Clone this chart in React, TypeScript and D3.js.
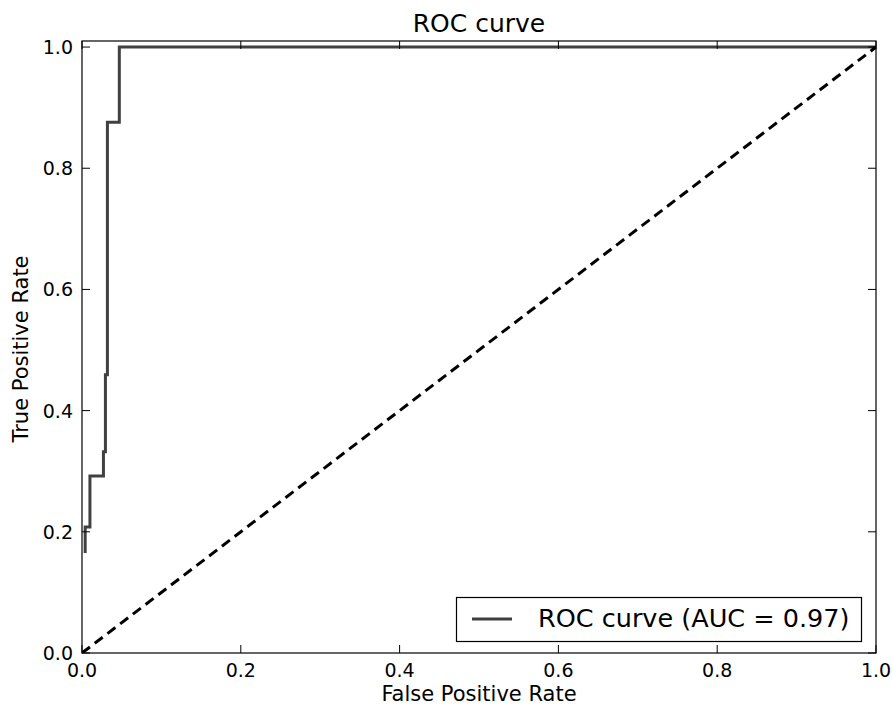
import * as d3 from 'd3';
import React from 'react';

// ROC curve points
const fpr = [0.004, 0.004, 0.010, 0.010, 0.027, 0.027, 0.0295, 0.0295, 0.032, 0.032, 0.047, 0.047, 1.0];
const tpr = [0.165, 0.208, 0.208, 0.292, 0.292, 0.332, 0.332, 0.459, 0.459, 0.876, 0.876, 1.0, 1.0];
const chance = [0, 1];
const xTicks = [0, 0.2, 0.4, 0.6, 0.8, 1.0];
const yTicks = [0, 0.2, 0.4, 0.6, 0.8, 1.0];
const title = 'ROC curve';
const legendLabel = 'ROC curve (AUC = 0.97)';

const W = 892, H = 708;
const left = 82, right = 876, top = 41, bottom = 653;
const font = 'DejaVu Sans, sans-serif';

export default function App() {
  const x = d3.scaleLinear().domain([0, 1]).range([left, right]);
  const y = d3.scaleLinear().domain([0, 1.01]).range([bottom, top]);

  const line = d3.line<number>().x((d, i) => x(fpr[i])).y((d, i) => y(tpr[i]));
  const diag = d3.line<number>().x(d => x(d)).y(d => y(d));

  return (
    <svg width={W} height={H} style={{ position: 'absolute', left: 0, top: 0, background: '#fff' }} fontFamily={font}>
      <defs>
        <clipPath id="plot">
          <rect x={left} y={top} width={right - left} height={bottom - top} />
        </clipPath>
      </defs>
      <rect x={0} y={0} width={W} height={H} fill="#fff" />

      <g clipPath="url(#plot)">
        <path d={line(fpr) || ''} fill="none" stroke="#404040" strokeWidth={3} />
        <path d={diag(chance) || ''} fill="none" stroke="#000" strokeWidth={3} strokeDasharray="10,6" />
      </g>

      {/* ticks, inward on all four sides */}
      {xTicks.map(t => (
        <g key={'x' + t}>
          <line x1={x(t)} x2={x(t)} y1={bottom} y2={bottom - 8} stroke="#000" />
          <line x1={x(t)} x2={x(t)} y1={top} y2={top + 8} stroke="#000" />
          <text x={x(t)} y={677} fontSize={19} textAnchor="middle" fill="#000">{t.toFixed(1)}</text>
        </g>
      ))}
      {yTicks.map(t => (
        <g key={'y' + t}>
          <line x1={left} x2={left + 8} y1={y(t)} y2={y(t)} stroke="#000" />
          <line x1={right} x2={right - 8} y1={y(t)} y2={y(t)} stroke="#000" />
          <text x={73} y={y(t) + 7} fontSize={19} textAnchor="end" fill="#000">{t.toFixed(1)}</text>
        </g>
      ))}

      <rect x={left} y={top} width={right - left} height={bottom - top} fill="none" stroke="#000" strokeWidth={1.2} />

      <text x={(left + right) / 2} y={32} fontSize={25} textAnchor="middle">{title}</text>
      <text x={(left + right) / 2} y={701} fontSize={21} textAnchor="middle">False Positive Rate</text>
      <text transform={`translate(28,349) rotate(-90)`} fontSize={21} textAnchor="middle">True Positive Rate</text>

      {/* legend */}
      <g>
        <rect x={456.5} y={597.5} width={405} height={44} fill="#fff" stroke="#000" strokeWidth={1.2} />
        <line x1={472} x2={512} y1={619} y2={619} stroke="#404040" strokeWidth={3} />
        <text x={538} y={627} fontSize={25.5}>{legendLabel}</text>
      </g>
    </svg>
  );
}
